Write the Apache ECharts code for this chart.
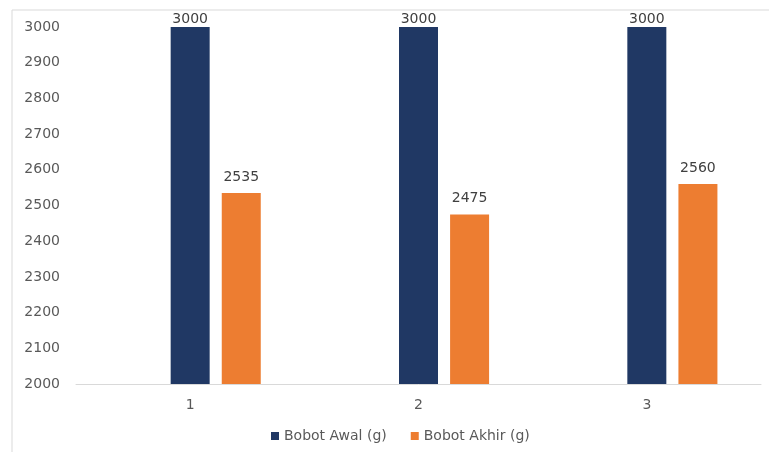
<!DOCTYPE html>
<html>
<head>
<meta charset="utf-8">
<script src="https://cdn.jsdelivr.net/npm/echarts@6/dist/echarts.min.js"></script>
<style>html,body{margin:0;padding:0;background:#fff}#c{width:769px;height:452px}</style>
</head>
<body>
<div id="c"></div>
<script>
var categories = ['1', '2', '3'];
var bobotAwal = [3000, 3000, 3000];
var bobotAkhir = [2535, 2475, 2560];
var seriesNames = ['Bobot Awal (g)', 'Bobot Akhir (g)'];

var FONT = 'DejaVu Sans';
var chart = echarts.init(document.getElementById('c'));
chart.setOption({
  animation: false,
  backgroundColor: '#ffffff',
  graphic: [{
    type: 'rect',
    shape: { x: 12, y: 10, width: 800, height: 500 },
    style: { fill: 'none', stroke: '#d9d9d9', lineWidth: 1 },
    silent: true
  }],
  grid: { left: 76, right: 8, top: 27, bottom: 68 },
  legend: {
    data: seriesNames,
    bottom: 4,
    left: 266,
    icon: 'rect',
    itemWidth: 8,
    itemHeight: 8,
    itemGap: 24,
    textStyle: { fontFamily: FONT, fontSize: 14, color: '#595959' }
  },
  xAxis: {
    type: 'category',
    data: categories,
    axisLine: { lineStyle: { color: '#d9d9d9', width: 1 } },
    axisTick: { show: false },
    axisLabel: { fontFamily: FONT, fontSize: 14, color: '#595959', margin: 14 }
  },
  yAxis: {
    type: 'value',
    min: 2000,
    max: 3000,
    interval: 100,
    axisLine: { show: false },
    axisTick: { show: false },
    splitLine: { show: false },
    axisLabel: { fontFamily: FONT, fontSize: 14, color: '#595959', margin: 16, formatter: function (v) { return String(v); } }
  },
  series: [
    {
      name: 'blank',
      type: 'bar',
      data: [null, null, null],
      barWidth: 39,
      barGap: '31%'
    },
    {
      name: seriesNames[0],
      type: 'bar',
      data: bobotAwal,
      barWidth: 39,
      barGap: '31%',
      itemStyle: { color: '#203864' },
      label: { show: true, position: 'top', distance: 1, fontFamily: FONT, fontSize: 14, color: '#404040' }
    },
    {
      name: seriesNames[1],
      type: 'bar',
      data: bobotAkhir,
      barWidth: 39,
      barGap: '31%',
      itemStyle: { color: '#ED7D31' },
      label: { show: true, position: 'top', distance: 9, fontFamily: FONT, fontSize: 14, color: '#404040' }
    }
  ]
});
</script>
</body>
</html>
